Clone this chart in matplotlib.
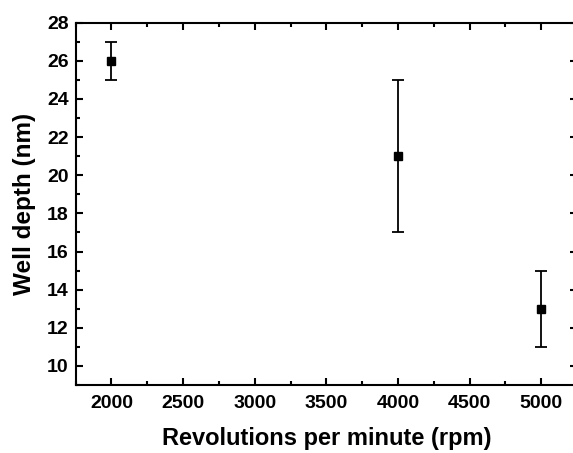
import numpy as np
from matplotlib import pyplot as plt
from matplotlib.ticker import MultipleLocator

# spin speed vs well depth
rpm = [2000, 4000, 5000]
depth = [26, 21, 13]
depth_err = [1, 4, 2]

plt.rcParams['font.family'] = ['Liberation Sans', 'DejaVu Sans']
plt.rcParams['font.weight'] = 'bold'

fig = plt.figure(figsize=(5.73, 4.53), dpi=100)
ax = fig.add_axes([0.132, 0.150, 0.875, 0.800])

ax.errorbar(rpm, depth, yerr=depth_err, fmt='s', color='black', ms=6,
            ecolor='black', elinewidth=1.3, capsize=4, capthick=1.3)

ax.set_xlim(1750, 5250)
ax.set_ylim(9, 28)
ax.xaxis.set_major_locator(MultipleLocator(500))
ax.xaxis.set_minor_locator(MultipleLocator(250))
ax.yaxis.set_major_locator(MultipleLocator(2))
ax.yaxis.set_minor_locator(MultipleLocator(1))
ax.tick_params(which='both', direction='in', top=True, right=True, width=1.5,
               labelsize=14)
ax.tick_params(axis='x', pad=7)
ax.tick_params(axis='y', pad=5)
ax.tick_params(which='major', length=5)
ax.tick_params(which='minor', length=3)
for lbl in ax.get_xticklabels() + ax.get_yticklabels():
    lbl.set_fontweight('bold')
for s in ax.spines.values():
    s.set_linewidth(1.5)

ax.set_xlabel('Revolutions per minute (rpm)', fontsize=17, fontweight='bold', labelpad=11)
ax.set_ylabel('Well depth (nm)', fontsize=17.5, fontweight='bold', labelpad=8)

fig.savefig('out.png', dpi=100)
